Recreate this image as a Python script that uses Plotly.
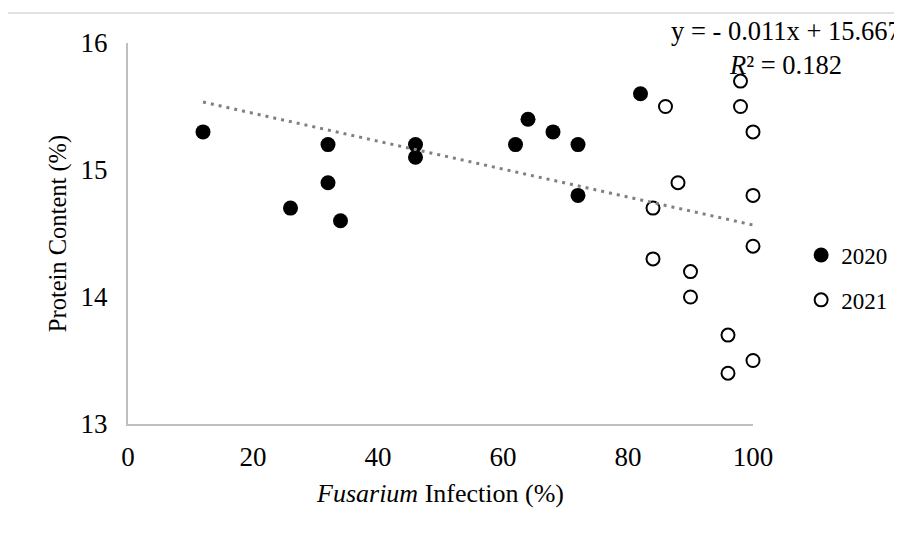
import plotly.graph_objects as go

# ---- data ----
x2020 = [12, 26, 32, 32, 34, 46, 46, 62, 64, 68, 72, 72, 82]
y2020 = [15.3, 14.7, 15.2, 14.9, 14.6, 15.2, 15.1, 15.2, 15.4, 15.3, 15.2, 14.8, 15.6]

x2021 = [86, 98, 98, 100, 88, 84, 100, 100, 84, 90, 90, 96, 100, 96]
y2021 = [15.5, 15.7, 15.5, 15.3, 14.9, 14.7, 14.8, 14.4, 14.3, 14.2, 14.0, 13.7, 13.5, 13.4]

trend_slope = -0.011
trend_intercept = 15.667
trend_x = [12, 100]
trend_y = [trend_intercept + trend_slope * v for v in trend_x]

x_ticks = [0, 20, 40, 60, 80, 100]
y_ticks = [13, 14, 15, 16]

FONT = "Liberation Serif"

fig = go.Figure()
fig.add_trace(go.Scatter(
    x=x2020, y=y2020, mode="markers", name="2020",
    marker=dict(symbol="circle", size=15, color="black", line=dict(width=0)),
    cliponaxis=False, legendgroup="a"))
fig.add_trace(go.Scatter(
    x=x2021, y=y2021, mode="markers", name="2021",
    marker=dict(symbol="circle", size=13, color="white", line=dict(width=2, color="black")),
    cliponaxis=False, legendgroup="b"))
fig.add_trace(go.Scatter(
    x=trend_x, y=trend_y, mode="lines", showlegend=False,
    line=dict(color="#808080", width=3, dash="3px,5px"), hoverinfo="skip"))

# page body has an 8px margin: shift plot area up/left by 8px
fig.update_layout(
    width=902, height=534,
    margin=dict(l=120, r=157, t=35, b=118),
    paper_bgcolor="white", plot_bgcolor="white",
    font=dict(family=FONT, color="black", size=26),
    xaxis=dict(range=[0, 100], tickvals=x_ticks, ticktext=[str(v) for v in x_ticks],
               showgrid=False, zeroline=False, showline=True, linecolor="#BFBFBF", linewidth=2,
               ticks="", ticklabelstandoff=8, tickfont=dict(size=27, family=FONT),
               title=dict(text="<i>Fusarium</i> Infection (%)", font=dict(size=26, family=FONT), standoff=12)),
    yaxis=dict(range=[13, 16], tickvals=y_ticks, ticktext=[str(v) for v in y_ticks],
               showgrid=False, zeroline=False, showline=True, linecolor="#BFBFBF", linewidth=2,
               ticks="", ticklabelstandoff=13, tickfont=dict(size=27, family=FONT),
               title=dict(text="Protein Content (%)", font=dict(size=24.5, family=FONT), standoff=7)),
    legend=dict(x=1.077, y=0.50, xanchor="left", yanchor="top",
                font=dict(size=23, family=FONT), traceorder="grouped", tracegroupgap=12,
                itemwidth=30, bgcolor="rgba(0,0,0,0)"),
    showlegend=True,
)

# chart-area border (cropped)
fig.add_shape(type="line", xref="paper", yref="paper",
              x0=(6 - 128) / 625, x1=(910 - 128) / 625, y0=(424 - 13) / 381, y1=(424 - 13) / 381,
              line=dict(color="#D9D9D9", width=1.5))
fig.add_shape(type="line", xref="paper", yref="paper",
              x0=(6 - 128) / 625, x1=(6 - 128) / 625, y0=(424 - 13) / 381, y1=(424 - 545) / 381,
              line=dict(color="#D9D9D9", width=1.5))

fig.add_annotation(
    xref="paper", yref="paper", x=(786 - 128) / 625, y=(424 - 48) / 381,
    xanchor="center", yanchor="middle", align="center", showarrow=False,
    text="y = - 0.011x + 15.667<br><i>R</i>² = 0.182",
    font=dict(size=26.5, family=FONT, color="black"))

fig.write_html("out.html")
